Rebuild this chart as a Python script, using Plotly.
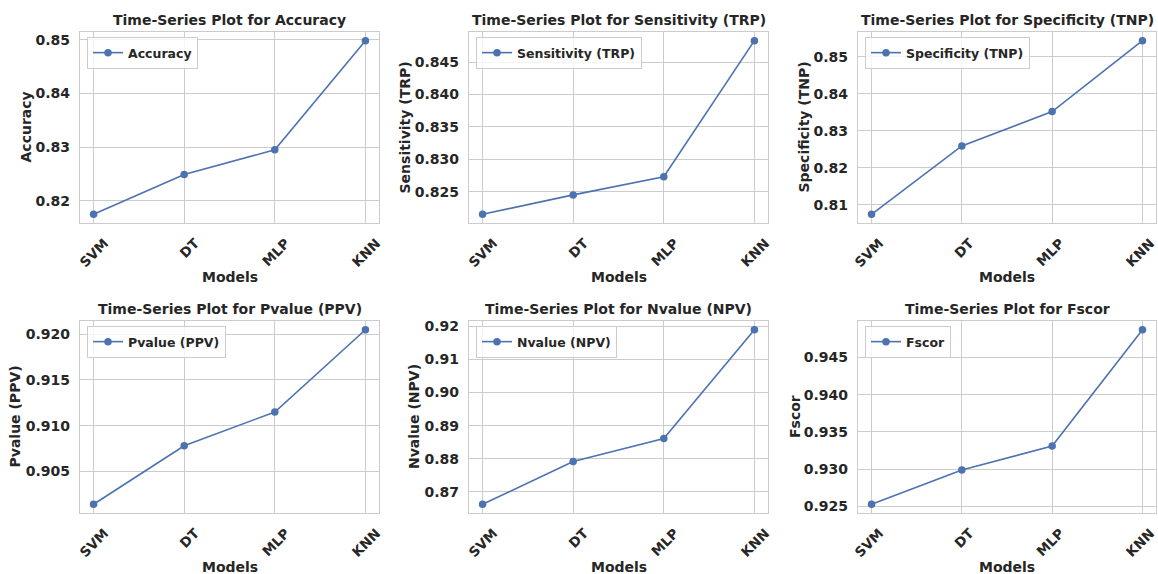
import plotly.graph_objects as go

# ---------------- data ----------------
models = ["SVM", "DT", "MLP", "KNN"]
accuracy = [0.8175, 0.8249, 0.8295, 0.8498]
sensitivity = [0.8215, 0.8245, 0.8273, 0.8483]
specificity = [0.8074, 0.8259, 0.8352, 0.8544]
pvalue = [0.9014, 0.9078, 0.9115, 0.9205]
nvalue = [0.8663, 0.8792, 0.8861, 0.9189]
fscor = [0.9253, 0.9299, 0.9331, 0.9487]

metric_names = ["Accuracy", "Sensitivity (TRP)", "Specificity (TNP)",
                "Pvalue (PPV)", "Nvalue (NPV)", "Fscor"]
metric_values = [accuracy, sensitivity, specificity, pvalue, nvalue, fscor]
tick_steps = [0.01, 0.005, 0.01, 0.005, 0.01, 0.005]
tick_formats = [".2f", ".3f", ".2f", ".3f", ".2f", ".3f"]
x_label = "Models"

# ---------------- layout geometry (pixels) ----------------
W, H = 1158, 574
col_px = [(80, 379), (469, 768), (858, 1156)]
row_px = [(32, 223), (321, 513)]
ylabel_x = [[25, 404, 803], [14.5, 414, 795]]
title_y = [20, 309]
xlabel_y = [277, 567]
label_shift = [11, 11, 8]

BLUE = "#4c72b0"
TXT = "#262626"
GRID = "#cccccc"
FONT = "DejaVu Sans"


def px_x(p):
    return p / W


def px_y(p):
    return 1 - p / H


fig = go.Figure()
annotations = []
layout = {}

for i, (name, vals) in enumerate(zip(metric_names, metric_values)):
    r, c = divmod(i, 3)
    n = "" if i == 0 else str(i + 1)
    x0, x1 = col_px[c]
    y0, y1 = row_px[r]

    fig.add_trace(go.Scatter(
        x=models, y=vals, mode="lines+markers", name=name,
        xaxis="x" + n, yaxis="y" + n, legend="legend" + n,
        line=dict(color=BLUE, width=1.6),
        marker=dict(size=7.5, color=BLUE),
        showlegend=True,
    ))

    span = max(vals) - min(vals)
    yr = [min(vals) - 0.05 * span, max(vals) + 0.05 * span]

    layout["xaxis" + n] = dict(
        domain=[px_x(x0), px_x(x1)], anchor="y" + n,
        type="category", categoryorder="array", categoryarray=models,
        range=[-0.15, 3.15], automargin=False,
        showgrid=True, gridcolor=GRID, gridwidth=1,
        showline=True, mirror=True, linecolor=GRID, linewidth=1.25,
        zeroline=False, ticks="", tickangle=-45,
        ticklabelshift=label_shift[c], ticklabelstandoff=6,
        tickfont=dict(family=FONT, size=13.5, color=TXT, weight="bold"),
    )
    layout["yaxis" + n] = dict(
        domain=[px_y(y1), px_y(y0)], anchor="x" + n,
        range=yr, tick0=0, dtick=tick_steps[i], tickformat=tick_formats[i],
        automargin=False,
        showgrid=True, gridcolor=GRID, gridwidth=1,
        showline=True, mirror=True, linecolor=GRID, linewidth=1.25,
        zeroline=False, ticks="", ticklabelstandoff=6,
        tickfont=dict(family=FONT, size=14, color=TXT, weight="bold"),
    )
    layout["legend" + n] = dict(
        x=px_x(x0 + 7), y=px_y(y0 + 5), xanchor="left", yanchor="top",
        xref="paper", yref="paper",
        bgcolor="rgba(255,255,255,0.8)", bordercolor=GRID, borderwidth=1,
        font=dict(family=FONT, size=12.5, color=TXT, weight="bold"),
        itemwidth=30,
    )

    cx = (x0 + x1) / 2
    annotations.append(dict(
        text="Time-Series Plot for " + name, x=px_x(cx), y=px_y(title_y[r]),
        xref="paper", yref="paper", xanchor="center", yanchor="middle",
        showarrow=False,
        font=dict(family=FONT, size=14, color=TXT, weight="bold"),
    ))
    annotations.append(dict(
        text=x_label, x=px_x(cx), y=px_y(xlabel_y[r]),
        xref="paper", yref="paper", xanchor="center", yanchor="middle",
        showarrow=False,
        font=dict(family=FONT, size=14, color=TXT, weight="bold"),
    ))
    annotations.append(dict(
        text=name, x=px_x(ylabel_x[r][c]), y=px_y((y0 + y1) / 2),
        xref="paper", yref="paper", xanchor="center", yanchor="middle",
        textangle=-90, showarrow=False,
        font=dict(family=FONT, size=14, color=TXT, weight="bold"),
    ))

fig.update_layout(
    width=W, height=H,
    margin=dict(l=0, r=0, t=0, b=0, autoexpand=False),
    paper_bgcolor="white", plot_bgcolor="white",
    annotations=annotations,
    font=dict(family=FONT, color=TXT),
    **layout,
)

fig.write_html("out.html")
